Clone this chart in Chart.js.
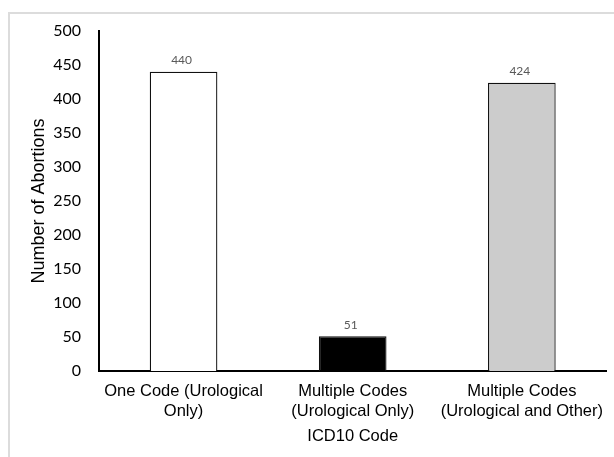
<!DOCTYPE html>
<html>
<head>
<meta charset="utf-8">
<script src="https://cdn.jsdelivr.net/npm/chart.js@4/dist/chart.umd.min.js"></script>
<style>
  html, body { margin: 0; padding: 0; background: #fff; overflow: hidden; }
  #frame {
    position: absolute; left: 8px; top: 12px; width: 700px; height: 500px;
    border-left: 2px solid #dcdcdc; border-top: 2px solid #dcdcdc;
  }
  #c { position: absolute; left: 0; top: 0; }
</style>
</head>
<body>
<div id="frame"></div>
<canvas id="c" width="614" height="457"></canvas>
<script>
// Abortion counts by ICD10 coding group
const categories = [
  ["One Code (Urological", "Only)"],
  ["Multiple Codes", "(Urological Only)"],
  ["Multiple Codes", "(Urological and Other)"]
];
const abortionCounts = [440, 51, 424];
const barFills = ["#ffffff", "#000000", "#cccccc"];
const yTicks = [0, 50, 100, 150, 200, 250, 300, 350, 400, 450, 500];

// Writes each bar's value just above it
const valueLabels = {
  id: "valueLabels",
  afterDatasetsDraw(chart) {
    const ctx = chart.ctx;
    const meta = chart.getDatasetMeta(0);
    ctx.save();
    ctx.font = "12px Lato";
    ctx.fillStyle = "#595959";
    ctx.textAlign = "center";
    ctx.textBaseline = "middle";
    meta.data.forEach((bar, i) => {
      ctx.fillText(String(chart.data.datasets[0].data[i]), bar.x - 2, bar.y - 11.5);
    });
    ctx.restore();
  }
};

new Chart(document.getElementById("c"), {
  type: "bar",
  data: {
    labels: categories,
    datasets: [{
      data: abortionCounts,
      backgroundColor: barFills,
      borderColor: "#111111",
      borderWidth: 1.3,
      barPercentage: 0.4,
      categoryPercentage: 1.0
    }]
  },
  options: {
    responsive: false,
    animation: false,
    layout: { padding: { left: 0, top: 31, right: 6, bottom: 0 } },
    plugins: { legend: { display: false }, tooltip: { enabled: false } },
    scales: {
      x: {
        grid: { display: false, drawTicks: false },
        border: { display: true, color: "#000", width: 2 },
        ticks: {
          color: "#000",
          font: { family: "'Liberation Sans', Arial, sans-serif", size: 16.5, lineHeight: 1.25 },
          padding: 10,
          maxRotation: 0,
          autoSkip: false
        },
        title: {
          display: true,
          text: "ICD10 Code",
          color: "#000",
          font: { family: "'Liberation Sans', Arial, sans-serif", size: 16.5, lineHeight: 1.2 },
          padding: { top: 0, bottom: 11 }
        },
        afterFit(s) { s.height = 86; }
      },
      y: {
        min: 0,
        max: 500,
        grid: { display: false, drawTicks: false },
        border: { display: true, color: "#000", width: 2 },
        afterBuildTicks(s) { s.ticks = yTicks.map(v => ({ value: v })); },
        ticks: {
          color: "#000",
          font: { family: "Lato, sans-serif", size: 16 },
          padding: 18
        },
        title: {
          display: true,
          text: "Number of Abortions",
          color: "#000",
          font: { family: "'Liberation Sans', Arial, sans-serif", size: 18, lineHeight: 1.2 },
          padding: { top: 28, bottom: 0 }
        },
        afterFit(s) { s.width = 99; }
      }
    }
  },
  plugins: [valueLabels]
});
</script>
</body>
</html>
